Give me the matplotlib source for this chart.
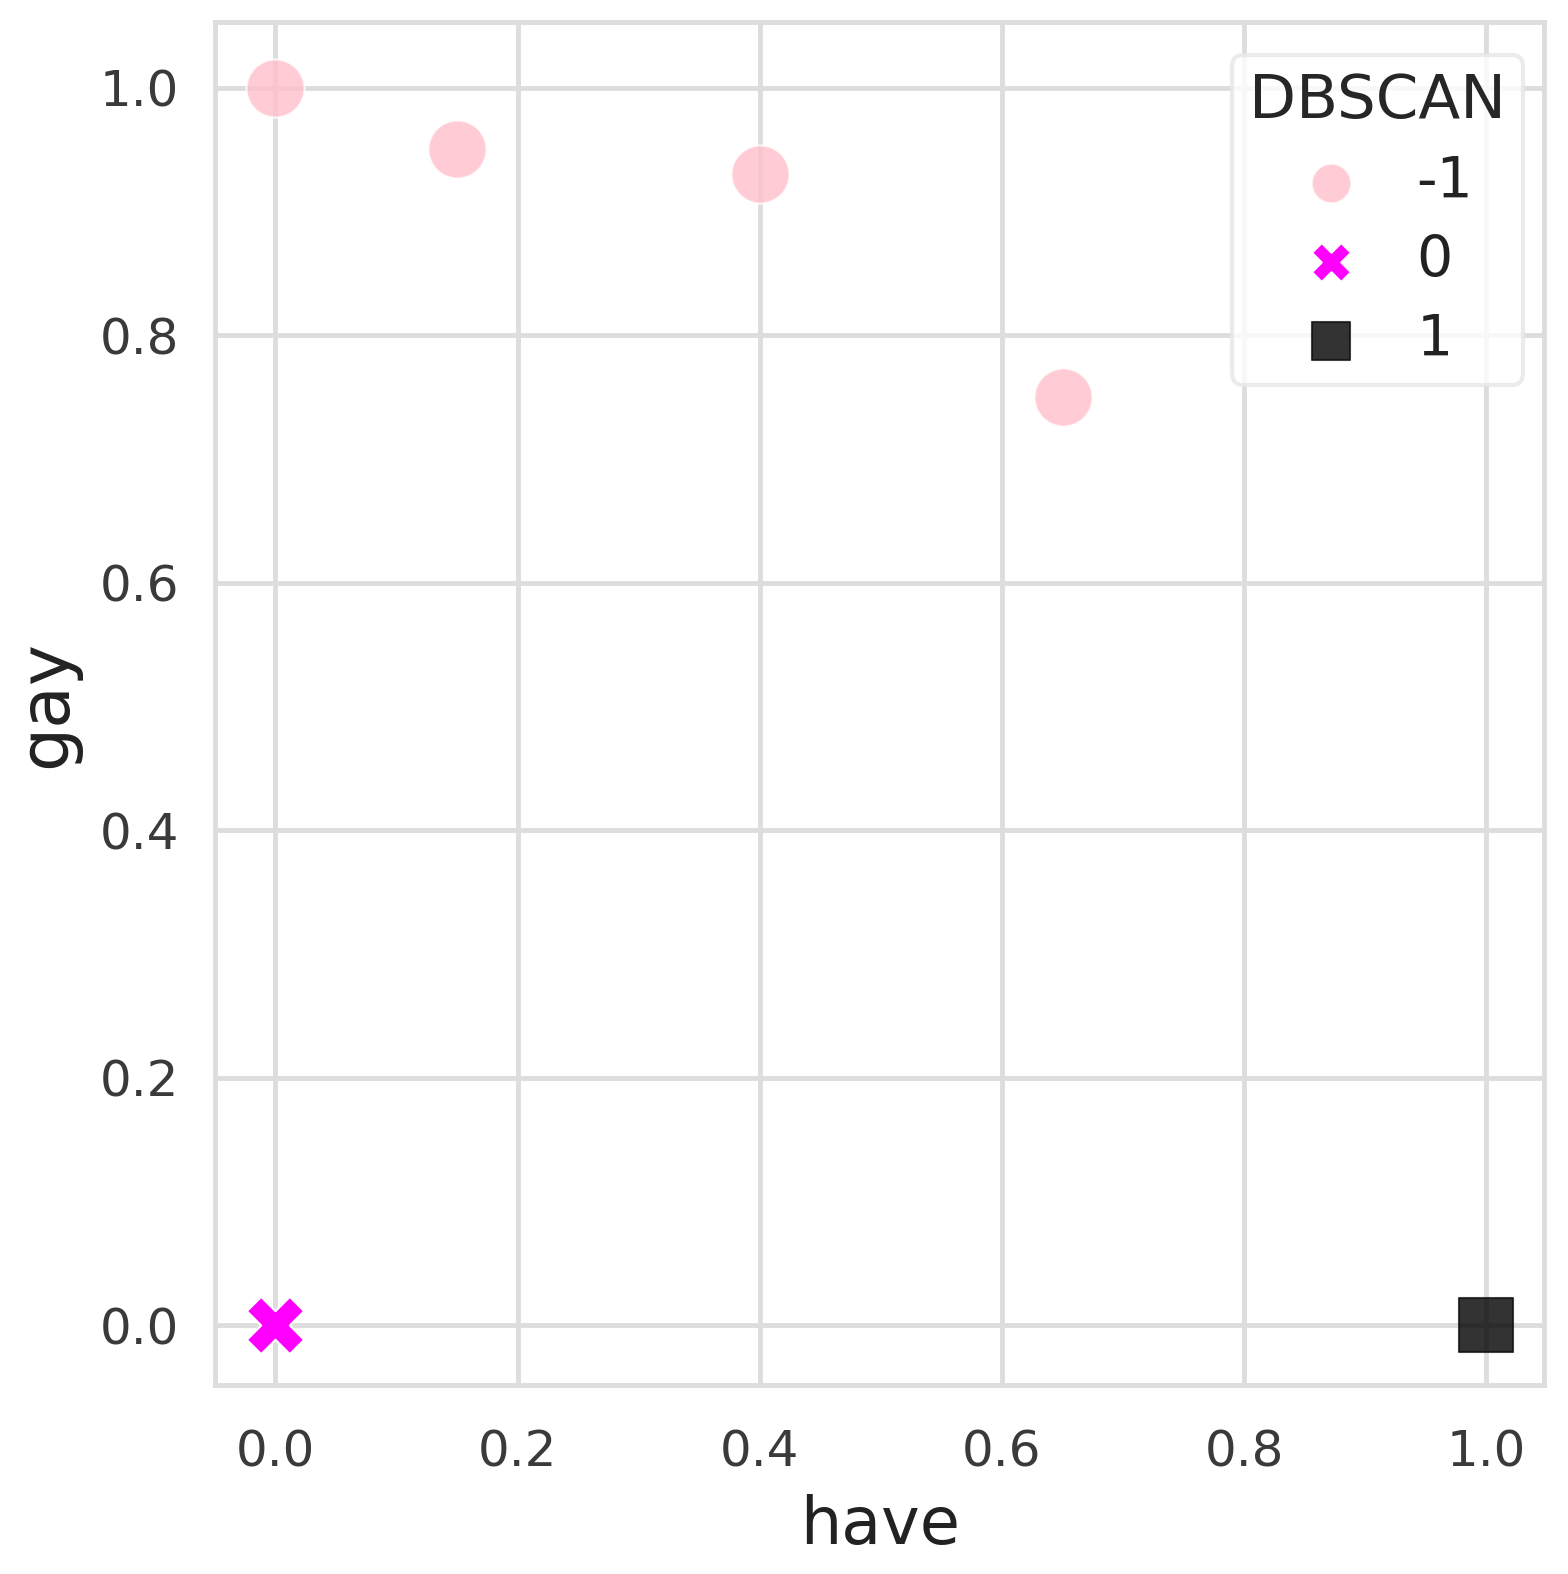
import matplotlib
matplotlib.use("Agg")
import matplotlib.pyplot as plt
import seaborn as sns

sns.set_style("whitegrid")
plt.rcParams['font.family'] = ['DejaVu Sans']

# DBSCAN labels per point
have = [0.0, 0.15, 0.40, 0.65, 0.0, 1.0]
gay = [1.0, 0.95, 0.93, 0.75, 0.0, 0.0]
labels = [-1, -1, -1, -1, 0, 1]

clusters = [-1, 0, 1]
colors = {-1: "pink", 0: "magenta", 1: "black"}
markers = {-1: "o", 0: "X", 1: "s"}
sizes = {-1: 1750, 0: 1700, 1: 1550}

fig = plt.figure(figsize=(15.68, 15.74), dpi=100)
ax = fig.add_axes([0.137, 0.12, 0.848, 0.866])

for c in clusters:
    xs = [x for x, l in zip(have, labels) if l == c]
    ys = [y for y, l in zip(gay, labels) if l == c]
    ax.scatter(xs, ys, c=colors[c], marker=markers[c], s=sizes[c],
               alpha=0.8 if c != 0 else 1.0, edgecolors="white" if c != 1 else "#111111",
               linewidths=1.5, label=str(c), zorder=3)

ax.set_xlim(-0.05, 1.048)
ax.set_ylim(-0.0485, 1.053)
ax.set_xticks([0.0, 0.2, 0.4, 0.6, 0.8, 1.0])
ax.set_yticks([0.0, 0.2, 0.4, 0.6, 0.8, 1.0])
ax.tick_params(labelsize=36, colors="#3a3a3a")
ax.tick_params(axis="x", pad=28)
ax.tick_params(axis="y", pad=22)
ax.grid(color="#dddddd", linewidth=3.5)
for s in ax.spines.values():
    s.set_color("#dddddd")
    s.set_linewidth(3.5)

ax.set_xlabel("have", fontsize=47, color="#222222", labelpad=12)
ax.set_ylabel("gay", fontsize=50, color="#222222", labelpad=14)

leg = ax.legend(title="DBSCAN", loc="upper right", fontsize=41, title_fontsize=44,
                markerscale=0.68, labelspacing=0.42, handlelength=1.7,
                handletextpad=0.65, borderpad=0.3, borderaxespad=0,
                frameon=True, fancybox=True, bbox_to_anchor=(0.984, 0.976))
leg.get_frame().set_edgecolor("#e6e6e6")
leg.get_frame().set_linewidth(3)
for t in leg.get_texts():
    t.set_color("#222222")

fig.savefig("out.png", dpi=100)
